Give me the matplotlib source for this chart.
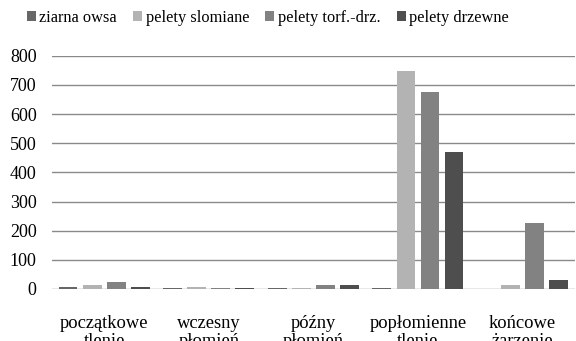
import numpy as np
import matplotlib.pyplot as plt

plt.rcParams['font.family'] = ['Liberation Serif', 'DejaVu Serif']

phases = ['początkowe\ntlenie', 'wczesny\npłomień', 'późny\npłomień',
          'popłomienne\ntlenie', 'końcowe\nżarzenie']
series_names = ['ziarna owsa', 'pelety slomiane', 'pelety torf.-drz.', 'pelety drzewne']
ziarna_owsa = [7, 5, 5, 5, 0]
pelety_slomiane = [15, 8, 3, 749, 14]
pelety_torf = [24, 5, 15, 677, 227]
pelety_drzewne = [7, 5, 12, 471, 31]
yticks = [0, 100, 200, 300, 400, 500, 600, 700, 800]

colors = ['#676767', '#b3b3b3', '#828282', '#4e4e4e']
values = [ziarna_owsa, pelety_slomiane, pelety_torf, pelety_drzewne]

fig = plt.figure(figsize=(5.76, 3.41), dpi=100)
ax = fig.add_axes([0.09, 0.1525, 0.908, 0.684])

x = np.arange(len(phases))
w = 0.18
step = 0.23
for i, (name, vals) in enumerate(zip(series_names, values)):
    ax.bar(x + (i - 1.5) * step, vals, width=w, color=colors[i],
           label=name, zorder=3)

ax.set_xlim(-0.5, len(phases) - 0.5)
ax.set_ylim(0, 800)
ax.set_yticks(yticks)
ax.set_xticks(x)
ax.set_xticklabels(phases, fontsize=13.3, linespacing=1.05)
ax.tick_params(axis='x', length=0, pad=19)
ax.tick_params(axis='y', length=0, pad=11, labelsize=13)
ax.yaxis.grid(True, color='#8a8a8a', linewidth=1.0, zorder=0)
for s in ax.spines.values():
    s.set_visible(False)

fig.legend(loc='center', bbox_to_anchor=(0.465, 0.948), ncol=4, frameon=False,
           fontsize=11.8, handlelength=0.55, handleheight=0.55, handletextpad=0.2,
           columnspacing=1.0)

fig.savefig('out.png', dpi=100)
